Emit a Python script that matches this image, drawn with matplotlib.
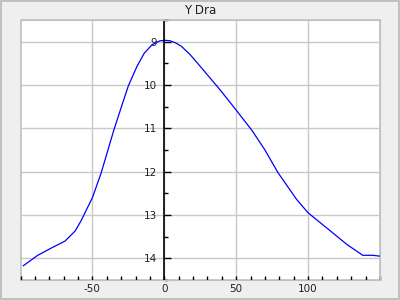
import matplotlib
matplotlib.use("Agg")
import matplotlib.pyplot as plt
from matplotlib.patches import Rectangle
from matplotlib.ticker import MultipleLocator

# light curve of Y Dra (days vs magnitude)
days = [-98, -88, -79, -69, -62, -58, -50, -44, -35, -29, -25, -19, -14, -8.5, -3, 1, 4, 8, 12, 18, 25, 39, 50, 61, 70, 79, 92, 100, 113, 127, 138, 145, 150]
mag = [14.17, 13.93, 13.77, 13.6, 13.37, 13.14, 12.6, 12.04, 11.03, 10.42, 10.02, 9.57, 9.27, 9.07, 8.98, 8.97, 8.98, 9.03, 9.11, 9.30, 9.57, 10.12, 10.58, 11.05, 11.5, 12.02, 12.64, 12.95, 13.30, 13.68, 13.93, 13.93, 13.95]
xticks = [-50, 0, 50, 100]
yticks = [9, 10, 11, 12, 13, 14]

plt.rcParams['axes.unicode_minus'] = False
plt.rcParams['font.family'] = 'DejaVu Sans'

fig = plt.figure(figsize=(4, 3), dpi=100, facecolor='#efefef')
fig.patch.set_edgecolor('#c0c0c0')
fig.patch.set_linewidth(1.5)
ax = fig.add_axes([20.5 / 400, 20 / 300, 359.5 / 400, 260 / 300])

ax.plot(days, mag, color='blue', lw=0.9)
ax.set_xlim(-100, 150)
ax.set_ylim(14.5, 8.5)

ax.set_xticks(xticks)
ax.set_yticks(yticks)
ax.xaxis.set_minor_locator(MultipleLocator(10))
ax.yaxis.set_minor_locator(MultipleLocator(0.5))
ax.grid(True, which='major', color='#c8c8c8', lw=1)

for s in ['top', 'right', 'bottom']:
    ax.spines[s].set_color('#c0c0c0')
ax.spines['left'].set_position(('data', 0))
ax.spines['left'].set_color('black')
ax.spines['left'].set_linewidth(1.2)
ax.spines['left'].set_capstyle('butt')
ax.add_patch(Rectangle((0, 0), 1, 1, transform=ax.transAxes, fill=False,
                       edgecolor='#c0c0c0', lw=1.2, clip_on=False, zorder=0.5))

ax.tick_params(axis='x', which='both', direction='in', length=3, width=1, pad=3, labelsize=7.5, labelcolor='#202020')
ax.tick_params(axis='y', which='major', direction='in', length=5, width=1, pad=5, labelsize=7.5, labelcolor='#202020')
ax.tick_params(axis='y', which='minor', direction='in', length=3, width=1)

ax.set_title('Y Dra', fontsize=8.5, pad=4, color='#202020')

fig.savefig('out.png', dpi=100, facecolor=fig.get_facecolor(), edgecolor=fig.patch.get_edgecolor())
